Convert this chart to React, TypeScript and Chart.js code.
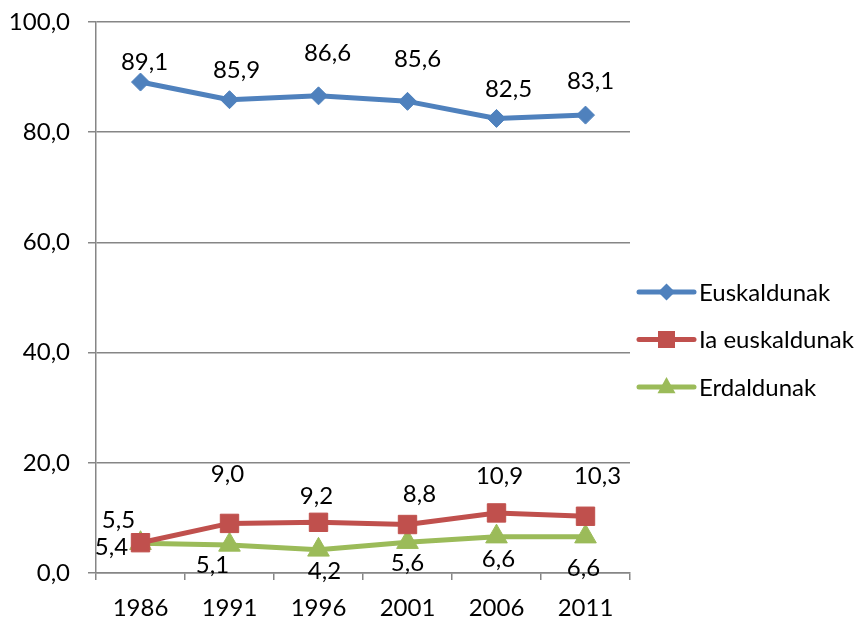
import React, { useEffect, useRef } from "react";
import { Chart, registerables } from "chart.js";
Chart.register(...registerables);

const years = ["1986", "1991", "1996", "2001", "2006", "2011"];
const euskaldunak = [89.1, 85.9, 86.6, 85.6, 82.5, 83.1];
const iaEuskaldunak = [5.5, 9.0, 9.2, 8.8, 10.9, 10.3];
const erdaldunak = [5.4, 5.1, 4.2, 5.6, 6.6, 6.6];
const yTickValues = [0, 20, 40, 60, 80, 100];

const seriesNames = ["Euskaldunak", "Ia euskaldunak", "Erdaldunak"];
const seriesColors = ["#4F81BD", "#C0504D", "#9BBB59"];
const seriesPointStyles = ["rectRot", "rect", "triangle"];
const seriesPointRadius = [9, 13, 12.5];

// data-label offsets in pixels (dx, dy) relative to the point
const labelOffsets = [
  [[4, -20], [7, -29], [9, -43], [10, -42], [12, -29], [5, -34]],
  [[-22, -22], [-2, -49], [-2, -26], [12, -30], [3, -37], [12, -40]],
  [[-29, 4], [-17, 20], [6, 21], [0, 21], [2, 23], [-2, 32]],
];

const FONT = "Lato, 'Open Sans', sans-serif";
const FONT_SIZE = 24;
const GRID = "#868686";

const fmt = (v: number) => v.toFixed(1).replace(".", ",");

const labelsPlugin = {
  id: "dataLabels",
  afterDatasetsDraw(chart: any) {
    const ctx = chart.ctx;
    ctx.save();
    ctx.font = `${FONT_SIZE}px ${FONT}`;
    ctx.fillStyle = "#000";
    ctx.textAlign = "center";
    ctx.textBaseline = "middle";
    chart.data.datasets.forEach((ds: any, di: number) => {
      const meta = chart.getDatasetMeta(di);
      meta.data.forEach((pt: any, i: number) => {
        const [dx, dy] = labelOffsets[di][i];
        ctx.fillText(fmt(ds.data[i]), pt.x + dx, pt.y + dy);
      });
    });
    ctx.restore();
  },
};

function drawMarker(ctx: CanvasRenderingContext2D, style: string, x: number, y: number, s: number) {
  ctx.beginPath();
  if (style === "rectRot") {
    ctx.moveTo(x, y - s);
    ctx.lineTo(x + s, y);
    ctx.lineTo(x, y + s);
    ctx.lineTo(x - s, y);
  } else if (style === "rect") {
    ctx.rect(x - s, y - s, 2 * s, 2 * s);
  } else {
    ctx.moveTo(x, y - s * 1.1);
    ctx.lineTo(x + s, y + s * 0.7);
    ctx.lineTo(x - s, y + s * 0.7);
  }
  ctx.closePath();
  ctx.fill();
}

const legendPlugin = {
  id: "customLegend",
  afterDraw(chart: any) {
    const ctx = chart.ctx;
    ctx.save();
    const x0 = chart.chartArea.right + 9;
    const x1 = x0 + 55;
    const startY = 292;
    const gap = 47.5;
    const markerSizes = [8.5, 8.5, 9];
    seriesNames.forEach((name, i) => {
      const y = startY + i * gap;
      ctx.strokeStyle = seriesColors[i];
      ctx.fillStyle = seriesColors[i];
      ctx.lineWidth = 5;
      ctx.lineCap = "round";
      ctx.beginPath();
      ctx.moveTo(x0, y);
      ctx.lineTo(x1, y);
      ctx.stroke();
      drawMarker(ctx, seriesPointStyles[i], (x0 + x1) / 2, y, markerSizes[i]);
      ctx.fillStyle = "#000";
      ctx.font = `${FONT_SIZE}px ${FONT}`;
      ctx.textAlign = "left";
      ctx.textBaseline = "middle";
      ctx.fillText(name, x1 + 5, y + 1);
    });
    ctx.restore();
  },
};

export default function App() {
  const ref = useRef<HTMLCanvasElement | null>(null);
  useEffect(() => {
    document.body.style.margin = "0";
    const canvas = ref.current!;
    const seriesData = [euskaldunak, iaEuskaldunak, erdaldunak];
    const chart = new Chart(canvas, {
      type: "line",
      data: {
        labels: years,
        datasets: seriesData.map((d, i) => ({
          label: seriesNames[i],
          data: d,
          borderColor: seriesColors[i],
          backgroundColor: seriesColors[i],
          borderWidth: 5,
          pointStyle: seriesPointStyles[i] as any,
          pointRadius: seriesPointRadius[i],
          pointBackgroundColor: seriesColors[i],
          pointBorderColor: seriesColors[i],
          pointBorderWidth: 1,
          tension: 0,
          borderJoinStyle: "round" as any,
          borderCapStyle: "round" as any,
        })),
      },
      options: {
        animation: false,
        responsive: false,
        events: [],
        layout: { padding: { top: 22, right: 231, left: 0, bottom: 0 } },
        plugins: { legend: { display: false }, tooltip: { enabled: false } },
        scales: {
          x: {
            offset: true,
            grid: {
              offset: true,
              drawOnChartArea: false,
              drawTicks: true,
              tickLength: 7,
              color: GRID,
              lineWidth: 1.5,
            },
            border: { color: GRID, width: 1.5 },
            ticks: {
              color: "#000",
              font: { family: FONT, size: FONT_SIZE },
              padding: 14,
              maxRotation: 0,
            },
            afterFit: (scale: any) => {
              scale.height = 53;
              scale.paddingLeft = 0;
              scale.paddingRight = 0;
            },
          },
          y: {
            min: 0,
            max: 100,
            afterBuildTicks: (scale: any) => {
              scale.ticks = yTickValues.map((v) => ({ value: v }));
            },
            grid: { color: GRID, lineWidth: 1.5, tickLength: 8 },
            border: { color: GRID, width: 1.5 },
            ticks: {
              color: "#000",
              font: { family: FONT, size: FONT_SIZE },
              padding: 18,
              callback: (v: any) => fmt(Number(v)),
            },
            afterFit: (scale: any) => {
              scale.width = 96;
              scale.paddingTop = 0;
              scale.paddingBottom = 0;
            },
          },
        },
      },
      plugins: [labelsPlugin, legendPlugin],
    });
    return () => chart.destroy();
  }, []);
  return (
    <div style={{ width: 861, height: 626 }}>
      <canvas ref={ref} width={861} height={626} />
    </div>
  );
}
